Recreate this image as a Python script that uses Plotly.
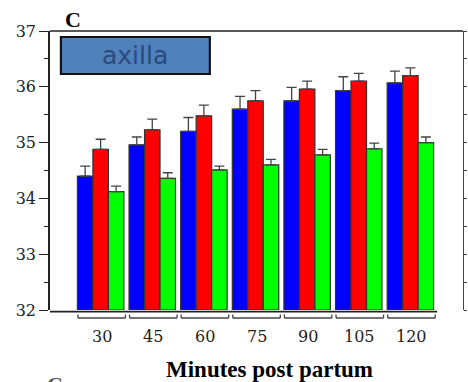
import plotly.graph_objects as go

categories = ["30", "45", "60", "75", "90", "105", "120"]
blue_vals = [34.40, 34.96, 35.20, 35.60, 35.75, 35.93, 36.07]
blue_err = [0.18, 0.14, 0.25, 0.23, 0.24, 0.25, 0.21]
red_vals = [34.88, 35.23, 35.48, 35.75, 35.96, 36.10, 36.20]
red_err = [0.18, 0.19, 0.19, 0.18, 0.14, 0.14, 0.14]
green_vals = [34.12, 34.36, 34.51, 34.60, 34.78, 34.89, 35.00]
green_err = [0.10, 0.10, 0.07, 0.10, 0.10, 0.10, 0.10]

W, H = 468, 382
L, R, T, B = 50, 2, 31, 72
xs = list(range(len(categories)))
XMIN, XMAX = -0.981, len(categories) - 1 + 1.019
YMIN, YMAX = 32, 37

fig = go.Figure()
edge = "#333333"
for vals, errs, col in [(blue_vals, blue_err, "#0000ff"),
                        (red_vals, red_err, "#ff0000"),
                        (green_vals, green_err, "#00ff00")]:
    fig.add_trace(go.Bar(
        x=xs, y=[v - YMIN for v in vals], base=YMIN,
        marker=dict(color=col, line=dict(color=edge, width=1.2)),
        error_y=dict(type="data", symmetric=False, array=errs,
                     arrayminus=[0] * len(errs), color="#444444",
                     thickness=1.3, width=5),
        showlegend=False,
    ))

shapes = []
line_col = "#222222"
pw = W - L - R
ph = H - T - B
# top line
shapes.append(dict(type="line", xref="paper", yref="paper", x0=0, x1=1, y0=1, y1=1,
                   line=dict(color=line_col, width=1.5)))
# bottom line
shapes.append(dict(type="line", xref="paper", yref="paper", x0=0, x1=(440 - L) / pw,
                   y0=-0.006, y1=-0.006, line=dict(color=line_col, width=1.8)))
# brackets under groups
yb = (H - B - 318) / ph
ytick = (H - B - 314.5) / ph
for x in xs:
    xa, xb = x - 0.44, x + 0.48
    shapes.append(dict(type="line", xref="x", yref="paper", x0=xa, x1=xb, y0=yb, y1=yb,
                       line=dict(color="#444444", width=1.3)))
    for xx in (xa, xb):
        shapes.append(dict(type="line", xref="x", yref="paper", x0=xx, x1=xx, y0=yb, y1=ytick,
                           line=dict(color="#444444", width=1.3)))
# axilla box
shapes.append(dict(type="rect", xref="paper", yref="paper",
                   x0=(61 - L) / pw, x1=(211 - L) / pw,
                   y0=(H - B - 74) / ph, y1=(H - B - 37) / ph,
                   fillcolor="#4f81bd", line=dict(color="#111111", width=2.2), layer="above"))

annotations = [
    dict(text="axilla", xref="paper", yref="paper", x=(136 - L) / pw, y=(H - B - 55) / ph,
         showarrow=False, font=dict(family="DejaVu Sans", size=25, color="#2c4a7c"),
         xanchor="center", yanchor="middle"),
    dict(text="<b>C</b>", xref="paper", yref="paper", x=(63 - L) / pw, y=(H - B - 19) / ph,
         showarrow=False, font=dict(family="Liberation Serif", size=22, color="#000000"),
         xanchor="left", yanchor="middle"),
    dict(text="<b>Minutes post partum</b>", xref="paper", yref="paper", x=(271 - L) / pw,
         y=(H - B - 369) / ph, showarrow=False,
         font=dict(family="Liberation Serif", size=23, color="#000000"),
         xanchor="center", yanchor="middle"),
    dict(text="<b>C</b>", xref="paper", yref="paper", x=(45 - L) / pw, y=(H - B - 384) / ph,
         showarrow=False, font=dict(family="Liberation Serif", size=22, color="#555555"),
         xanchor="left", yanchor="middle"),
]
for x, c in zip(xs, categories):
    annotations.append(dict(text=c, xref="x", yref="paper", x=x + 0.02, y=(H - B - 336) / ph,
                            showarrow=False,
                            font=dict(family="DejaVu Serif", size=16, color="#222222"),
                            xanchor="center", yanchor="middle"))

fig.add_trace(go.Scatter(x=[None], y=[None], yaxis="y2", showlegend=False))

fig.update_layout(
    width=W, height=H,
    margin=dict(l=L, r=R, t=T, b=B),
    plot_bgcolor="white", paper_bgcolor="white",
    barmode="group", bargap=0.1, bargroupgap=0,
    xaxis=dict(range=[XMIN, XMAX], showticklabels=False, showgrid=False, zeroline=False,
               showline=False, ticks=""),
    yaxis=dict(range=[YMIN, YMAX], dtick=1, showgrid=False, zeroline=False,
               showline=True, linecolor=line_col, linewidth=1.5,
               ticks="outside", ticklen=9, tickwidth=1.3, tickcolor=line_col,
               minor=dict(dtick=0.5, ticks="outside", ticklen=4, tickwidth=1.3, tickcolor=line_col),
               tickfont=dict(family="DejaVu Serif", size=16, color="#222222")),
    yaxis2=dict(range=[YMIN, YMAX], overlaying="y", side="right", dtick=0.5,
                showticklabels=False, showgrid=False, zeroline=False,
                showline=True, linecolor="#444444", linewidth=1.3,
                ticks="outside", ticklen=3, tickwidth=1.2, tickcolor="#444444"),
    shapes=shapes, annotations=annotations,
)

fig.write_html("out.html")
